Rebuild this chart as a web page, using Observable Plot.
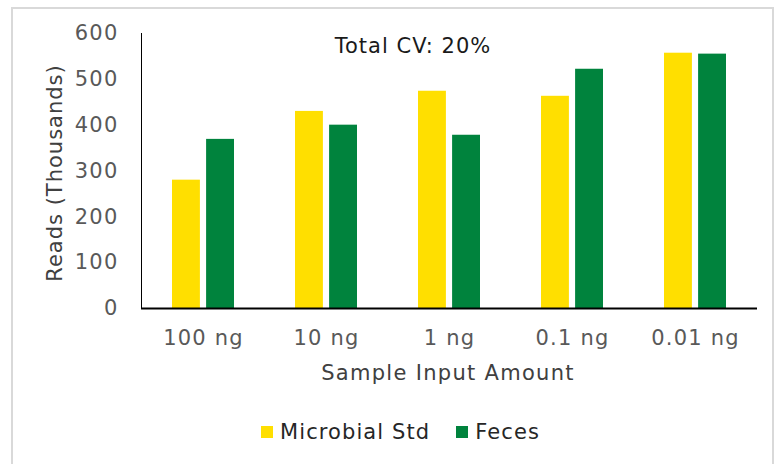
<!DOCTYPE html>
<html>
<head>
<meta charset="utf-8">
<script src="https://cdn.jsdelivr.net/npm/d3@7"></script>
<script src="https://cdn.jsdelivr.net/npm/@observablehq/plot@0.6"></script>
<style>
  html, body { margin: 0; padding: 0; background: #fff; }
  body { width: 781px; height: 464px; position: relative; overflow: hidden; font-family: "DejaVu Sans", sans-serif; }
  #border { position: absolute; left: 11px; top: 7px; width: 763px; height: 470px; border: 2px solid #d9d9d9; box-sizing: border-box; }
  #chart { position: absolute; left: 0; top: 0; }
  #chart svg text { font-size: 21px; letter-spacing: 1.2px; fill: #595959; }
  .txt { position: absolute; white-space: nowrap; font-size: 21px; letter-spacing: 1.3px; color: #404040; }
  #title { top: 34px; left: 413px; transform: translateX(-50%); color: #1a1a1a; letter-spacing: 1px; }
  #xlabel { top: 361px; left: 448px; transform: translateX(-50%); }
  #ylabel { top: 173px; left: 55px; transform: translate(-50%, -50%) rotate(-90deg); letter-spacing: 1px; }
  #legend { position: absolute; top: 420px; left: 0; width: 781px; display: flex; justify-content: center; gap: 26px; font-size: 21px; letter-spacing: 1.1px; color: #262626; padding-left: 20px; box-sizing: border-box; }
  #legend span.item { display: flex; align-items: center; gap: 7px; }
  #legend span.sw { width: 12px; height: 12px; display: inline-block; }
</style>
</head>
<body>
<div id="border"></div>
<div id="chart"></div>
<div id="title" class="txt">Total CV: 20%</div>
<div id="xlabel" class="txt">Sample Input Amount</div>
<div id="ylabel" class="txt">Reads (Thousands)</div>
<div id="legend"></div>
<script>
const categories = ["100 ng", "10 ng", "1 ng", "0.1 ng", "0.01 ng"];
const seriesNames = ["Microbial Std", "Feces"];
const microbialStd = [280, 430, 474, 463, 557];
const feces = [369, 400, 378, 522, 555];
const yTicks = [0, 100, 200, 300, 400, 500, 600];
const colors = ["#FFDF00", "#00833D"];

const rows = [];
categories.forEach((c, i) => {
  rows.push({cat: c, series: seriesNames[0], value: microbialStd[i]});
  rows.push({cat: c, series: seriesNames[1], value: feces[i]});
});

const W = 781, H = 400;
const mL = 141, mR = 24, mT = 33, mB = 92;
const step = (W - mL - mR) / 5;
const band = step * 0.5;
const barW = 27.5;
const inset = band - barW;

const chart = Plot.plot({
  width: W,
  height: H,
  marginLeft: mL,
  marginRight: mR,
  marginTop: mT,
  marginBottom: mB,
  style: { fontFamily: "DejaVu Sans, sans-serif", fontSize: "21px", color: "#000", background: "transparent" },
  x: { domain: categories, paddingInner: 0.5, paddingOuter: 0.25, label: null, tickSize: 0, tickPadding: 22 },
  y: { domain: [0, 600], ticks: yTicks, label: null, tickSize: 0, tickPadding: 23, line: true },
  color: { domain: seriesNames, range: colors },
  marks: [
    Plot.barY(rows.filter(d => d.series === seriesNames[0]), { x: "cat", y: "value", fill: "series", insetRight: inset }),
    Plot.barY(rows.filter(d => d.series === seriesNames[1]), { x: "cat", y: "value", fill: "series", insetLeft: inset }),
    Plot.ruleY([0], { stroke: "#000", strokeWidth: 2 })
  ]
});
document.getElementById("chart").appendChild(chart);

const leg = document.getElementById("legend");
seriesNames.forEach((s, i) => {
  const it = document.createElement("span");
  it.className = "item";
  const sw = document.createElement("span");
  sw.className = "sw";
  sw.style.background = colors[i];
  it.appendChild(sw);
  it.appendChild(document.createTextNode(s));
  leg.appendChild(it);
});
</script>
</body>
</html>
